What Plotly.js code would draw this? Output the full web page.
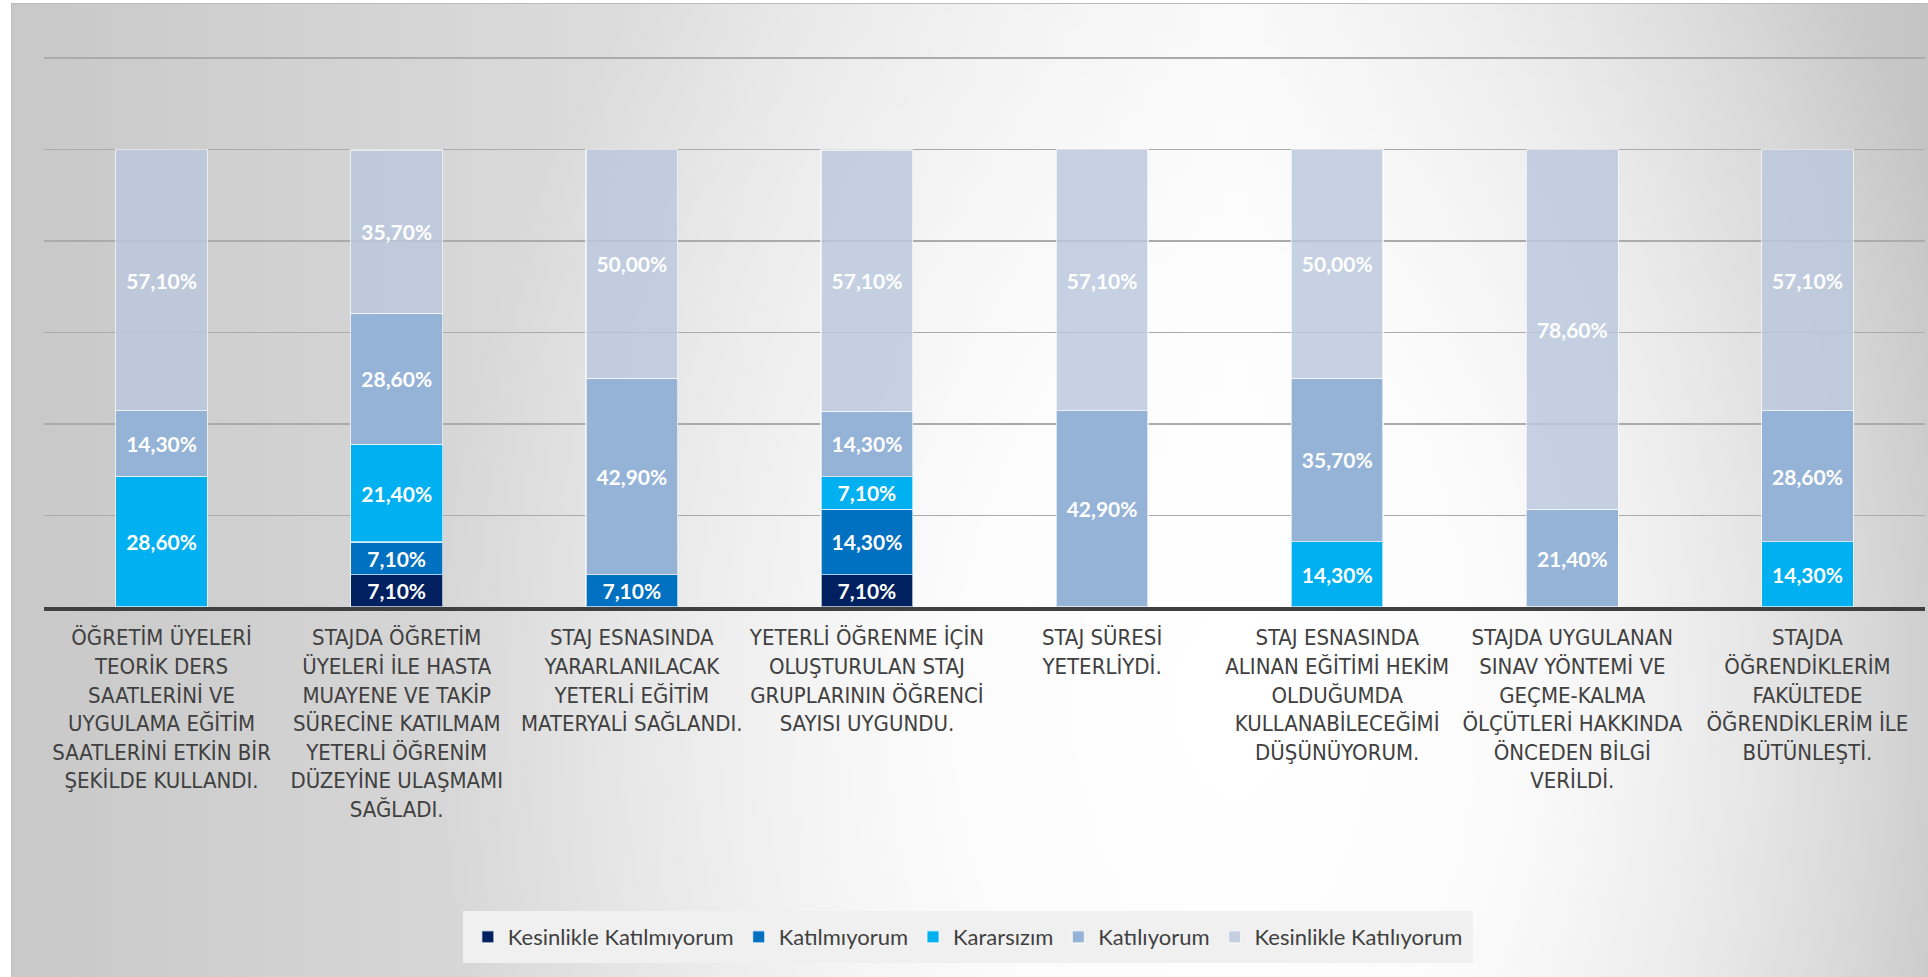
<!DOCTYPE html>
<html>
<head>
<meta charset="utf-8">
<script src="https://cdn.plot.ly/plotly-3.0.1.min.js"></script>
<style>
  html, body { margin: 0; padding: 0; width: 1928px; height: 977px; overflow: hidden; background: #ffffff; }
  #bg {
    position: absolute; left: 11px; top: 3px; width: 1916px; height: 973px;
    border-left: 1px solid #bdbdbd; border-top: 1px solid #bdbdbd; border-right: 1px solid #bdbdbd;
    background:
      radial-gradient(ellipse 42% 110% at 64% 72%, rgba(255,255,255,1) 0%, rgba(255,255,255,0.85) 35%, rgba(255,255,255,0) 100%),
      linear-gradient(to right, #c8c8c8 0%, #dedede 35%, #f4f4f4 64%, #dcdcdc 82%, #c4c4c4 100%);
  }
  #chart { position: absolute; left: 0; top: 0; width: 1928px; height: 977px; }
</style>
</head>
<body>
<div id="bg"></div>
<div id="chart"></div>
<script>
const categories = [
  "ÖĞRETİM ÜYELERİ<br>TEORİK DERS<br>SAATLERİNİ VE<br>UYGULAMA EĞİTİM<br>SAATLERİNİ ETKİN BİR<br>ŞEKİLDE KULLANDI.",
  "STAJDA ÖĞRETİM<br>ÜYELERİ İLE HASTA<br>MUAYENE VE TAKİP<br>SÜRECİNE KATILMAM<br>YETERLİ ÖĞRENİM<br>DÜZEYİNE ULAŞMAMI<br>SAĞLADI.",
  "STAJ ESNASINDA<br>YARARLANILACAK<br>YETERLİ EĞİTİM<br>MATERYALİ SAĞLANDI.",
  "YETERLİ ÖĞRENME İÇİN<br>OLUŞTURULAN STAJ<br>GRUPLARININ ÖĞRENCİ<br>SAYISI UYGUNDU.",
  "STAJ SÜRESİ<br>YETERLİYDİ.",
  "STAJ ESNASINDA<br>ALINAN EĞİTİMİ HEKİM<br>OLDUĞUMDA<br>KULLANABİLECEĞİMİ<br>DÜŞÜNÜYORUM.",
  "STAJDA UYGULANAN<br>SINAV YÖNTEMİ VE<br>GEÇME-KALMA<br>ÖLÇÜTLERİ HAKKINDA<br>ÖNCEDEN BİLGİ<br>VERİLDİ.",
  "STAJDA<br>ÖĞRENDİKLERİM<br>FAKÜLTEDE<br>ÖĞRENDİKLERİM İLE<br>BÜTÜNLEŞTİ."
];

const seriesNames = ["Kesinlikle Katılmıyorum", "Katılmıyorum", "Kararsızım", "Katılıyorum", "Kesinlikle Katılıyorum"];

const kesinlikleKatilmiyorum = [null, 7.1, null, 7.1, null, null, null, null];
const katilmiyorum           = [null, 7.1, 7.1, 14.3, null, null, null, null];
const kararsizim             = [28.6, 21.4, null, 7.1, null, 14.3, null, 14.3];
const katiliyorum            = [14.3, 28.6, 42.9, 14.3, 42.9, 35.7, 21.4, 28.6];
const kesinlikleKatiliyorum  = [57.1, 35.7, 50.0, 57.1, 57.1, 50.0, 78.6, 57.1];

const seriesValues = [kesinlikleKatilmiyorum, katilmiyorum, kararsizim, katiliyorum, kesinlikleKatiliyorum];
const seriesColors = ["#002060", "#0070C0", "#00B0F0", "#95B3D7", "rgba(185,199,222,0.82)"];

const yTicks = [0, 20, 40, 60, 80, 100, 120];

const traces = seriesNames.map((name, i) => ({
  type: "bar",
  name: name,
  x: categories,
  y: seriesValues[i],
  marker: { color: seriesColors[i], line: { color: "rgba(255,255,255,0.65)", width: 1.2 } },
  texttemplate: "%{y:.2f}%",
  textposition: "inside",
  insidetextanchor: "middle",
  constraintext: "none",
  textfont: { family: "Lato, 'Liberation Sans', sans-serif", size: 21, color: "#ffffff", weight: "bold" },
  hoverinfo: "skip"
}));

const layout = {
  width: 1928,
  height: 977,
  barmode: "stack",
  bargap: 0.61,
  separators: ", ",
  paper_bgcolor: "rgba(0,0,0,0)",
  plot_bgcolor: "rgba(0,0,0,0)",
  margin: { l: 44, r: 3, t: 49, b: 370 },
  font: { family: "Lato, 'Liberation Sans', sans-serif", color: "#404040" },
  xaxis: {
    type: "category",
    tickfont: { family: "'Liberation Sans Narrow', 'Arial Narrow', 'DejaVu Sans Condensed', sans-serif", size: 22, color: "#404040" },
    ticks: "",
    ticklabelstandoff: 8,
    showline: true,
    linecolor: "#404040",
    linewidth: 4,
    showgrid: false,
    tickangle: 0,
    automargin: false
  },
  yaxis: {
    range: [0, 122],
    tickvals: yTicks,
    showticklabels: false,
    showgrid: true,
    gridcolor: "#ababab",
    gridwidth: 1.5,
    zeroline: false,
    showline: false,
    automargin: false
  },
  showlegend: true,
  legend: {
    orientation: "h",
    traceorder: "normal",
    xref: "container",
    yref: "container",
    x: 0.502,
    xanchor: "center",
    y: 0.0143,
    yanchor: "bottom",
    bgcolor: "#f0f0f0",
    bordercolor: "#f0f0f0",
    borderwidth: 5,
    font: { family: "Lato, 'Liberation Sans', sans-serif", size: 22, color: "#404040" }
  }
};

Plotly.newPlot("chart", traces, layout, { displayModeBar: false, staticPlot: true });
</script>
</body>
</html>
